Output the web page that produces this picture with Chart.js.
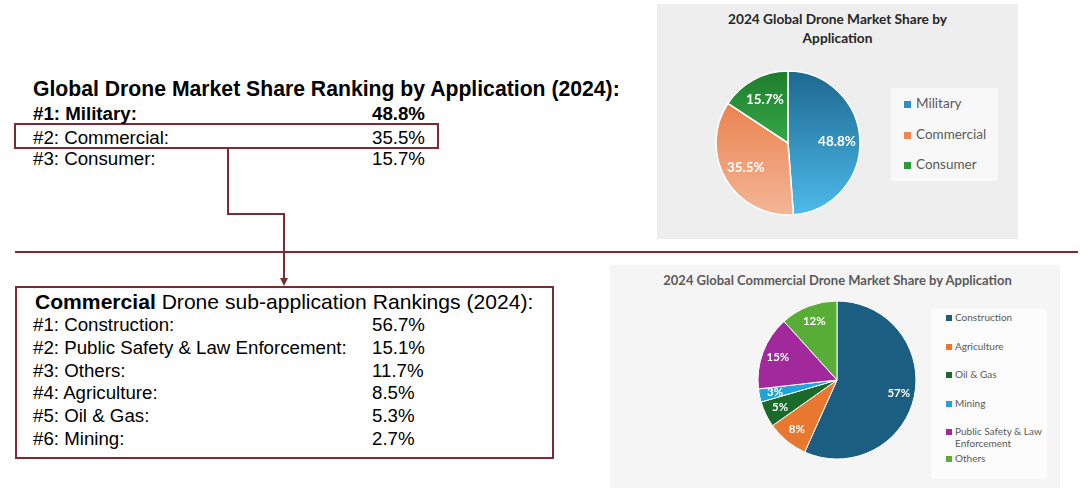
<!DOCTYPE html>
<html>
<head>
<meta charset="utf-8">
<script src="https://cdn.jsdelivr.net/npm/chart.js@4.4.1/dist/chart.umd.min.js"></script>
<style>
body { margin:0; width:1080px; height:488px; background:#fff; position:relative; overflow:hidden; font-family:"Liberation Sans", Arial, sans-serif; color:#000; }
.abs { position:absolute; }
.row { position:absolute; left:33px; font-size:18.7px; line-height:22px; white-space:nowrap; }
.row .v { position:absolute; left:339px; top:0; }
.panel { position:absolute; }
.ctitle { position:absolute; text-align:center; font-family:Lato, "Open Sans", sans-serif; font-weight:bold; }
.leg { position:absolute; font-family:Lato, "Open Sans", sans-serif; color:#595959; }
.leg div { position:absolute; white-space:nowrap; }
.leg span { display:inline-block; }
</style>
</head>
<body>

<svg class="abs" style="left:0;top:0" width="1080" height="488">
  <g stroke="#7d2a35" stroke-width="2" fill="none">
    <rect x="15" y="124" width="423" height="24"/>
    <polyline points="228,148 228,214 284,214 284,280"/>
    <line x1="15" y1="252" x2="1078" y2="252"/>
    <rect x="16" y="287" width="537" height="171"/>
  </g>
  <polygon points="280,278 288,278 284,286" fill="#7d2a35"/>
</svg>

<div id="topText"></div>
<div id="subText"></div>

<div class="panel" style="left:657px;top:4px;width:361px;height:235px;background:#eeeeee"></div>
<div class="ctitle" style="left:657px;top:9px;width:361px;font-size:13.7px;line-height:19px;color:#262626">2024 Global Drone Market Share by<br>Application</div>
<canvas id="appPie" class="abs" style="left:708px;top:63px" width="160" height="160"></canvas>
<div id="appLegend" class="leg" style="left:891px;top:88px;width:107px;height:93px;background:#f8f8f8;font-size:13.5px"></div>

<div class="panel" style="left:610px;top:265px;width:450px;height:223px;background:#f5f5f5"></div>
<div class="ctitle" style="left:610px;top:272px;width:455px;font-size:13px;line-height:17px;color:#595959">2024 Global Commercial Drone Market Share by Application</div>
<canvas id="subPie" class="abs" style="left:752px;top:295px" width="170" height="170"></canvas>
<div id="subLegend" class="leg" style="left:931px;top:309px;width:116px;height:170px;background:#fcfcfc;font-size:10px"></div>

<script>
// top level: market share by application
const appLabels = ['Military', 'Commercial', 'Consumer'];
const appShare = [48.8, 35.5, 15.7];
const appTop = ['#1d6890', '#e8743a', '#1e7d2c'];
const appBottom = ['#4dbbea', '#f4b697', '#4bd362'];
const appSwatch = ['#2e8fc2', '#ec8850', '#2a9a3a'];

// commercial sub applications (pie order)
const subLabels = ['Construction', 'Agriculture', 'Oil & Gas', 'Mining', 'Public Safety & Law Enforcement', 'Others'];
const subShare = [56.7, 8.5, 5.3, 2.7, 15.1, 11.7];
const subColors = ['#1b5e82', '#e8772f', '#1a6b29', '#1fa3d9', '#a2299c', '#58ad37'];

// left text blocks
let html = '<div class="row" style="top:78px;font-size:21.2px;font-weight:bold">Global Drone Market Share Ranking by Application (2024):</div>';
appLabels.forEach((name, i) => {
  const top = [103, 127, 148][i];
  const bold = i == 0 ? 'font-weight:bold;' : '';
  html += `<div class="row" style="top:${top}px;${bold}">#${i + 1}: ${name}:<span class="v">${appShare[i].toFixed(1)}%</span></div>`;
});
document.getElementById('topText').innerHTML = html;

const ranked = subLabels.map((l, i) => [l, subShare[i]]).sort((a, b) => b[1] - a[1]);
html = '<div class="row" style="top:290px;left:35px;font-size:21.1px;line-height:24px"><b>Commercial</b> Drone sub-application Rankings (2024):</div>';
ranked.forEach((r, i) => {
  html += `<div class="row" style="top:${314 + i * 22.8}px">#${i + 1}: ${r[0]}:<span class="v">${r[1].toFixed(1)}%</span></div>`;
});
document.getElementById('subText').innerHTML = html;

// legends
html = '';
appLabels.forEach((l, i) => {
  html += `<div style="left:13px;top:${7 + i * 30.5}px;line-height:16px"><span style="width:7px;height:7px;background:${appSwatch[i]};margin-right:5px"></span>${l}</div>`;
});
document.getElementById('appLegend').innerHTML = html;

html = '';
const subLegTop = [2, 31, 59, 88, 116, 143];
subLabels.forEach((l, i) => {
  const txt = l == 'Public Safety & Law Enforcement' ? 'Public Safety &amp; Law<br><span style="margin-left:9px"></span>Enforcement' : l.replace('&', '&amp;');
  html += `<div style="left:15px;top:${subLegTop[i]}px;line-height:12px"><span style="width:6px;height:6px;background:${subColors[i]};margin-right:3px"></span>${txt}</div>`;
});
document.getElementById('subLegend').innerHTML = html;

function gradient(tops, bottoms) {
  return c => {
    const a = c.chart.chartArea;
    if (!a) return bottoms[c.dataIndex];
    const g = c.chart.ctx.createLinearGradient(0, a.top + 8, 0, a.bottom - 8);
    g.addColorStop(0, tops[c.dataIndex]);
    g.addColorStop(1, bottoms[c.dataIndex]);
    return g;
  };
}

// excel style label on each slice
function sliceLabels(at, font, fmt) {
  return {
    id: 'sliceLabels',
    afterDatasetsDraw(chart) {
      const ctx = chart.ctx;
      const values = chart.data.datasets[0].data;
      ctx.save();
      ctx.font = font;
      ctx.fillStyle = '#fff';
      ctx.textAlign = 'center';
      ctx.textBaseline = 'middle';
      chart.getDatasetMeta(0).data.forEach((arc, i) => {
        const mid = (arc.startAngle + arc.endAngle) / 2;
        const r = arc.outerRadius * at;
        ctx.fillText(fmt(values[i]), arc.x + Math.cos(mid) * r, arc.y + Math.sin(mid) * r);
      });
      ctx.restore();
    }
  };
}

// half to even, so 8.5 shows as 8% like the source
function roundPct(v) {
  const f = Math.floor(v);
  const d = v - f;
  if (Math.abs(d - 0.5) < 1e-9) return (f % 2 == 0 ? f : f + 1) + '%';
  return Math.round(v) + '%';
}

new Chart(document.getElementById('appPie'), {
  type: 'pie',
  data: {
    labels: appLabels,
    datasets: [{
      data: appShare,
      backgroundColor: gradient(appTop, appBottom),
      borderColor: '#ffffff',
      borderWidth: 1.5,
      radius: 72
    }]
  },
  options: {
    responsive: false,
    animation: false,
    plugins: { legend: { display: false }, tooltip: { enabled: false } }
  },
  plugins: [sliceLabels(0.68, 'bold 13.5px Lato, "Open Sans", sans-serif', v => v.toFixed(1) + '%')]
});

new Chart(document.getElementById('subPie'), {
  type: 'pie',
  data: {
    labels: subLabels,
    datasets: [{
      data: subShare,
      backgroundColor: subColors,
      borderColor: '#ffffff',
      borderWidth: 1,
      radius: 79
    }]
  },
  options: {
    responsive: false,
    animation: false,
    plugins: { legend: { display: false }, tooltip: { enabled: false } }
  },
  plugins: [sliceLabels(0.8, 'bold 11.5px Lato, "Open Sans", sans-serif', roundPct)]
});
</script>
</body>
</html>
